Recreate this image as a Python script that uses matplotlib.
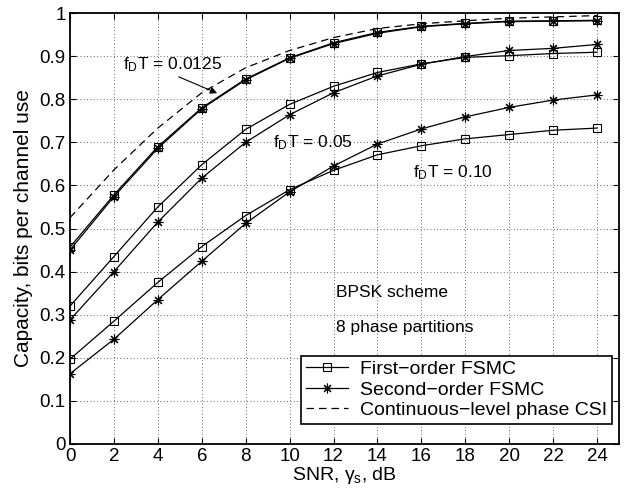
import matplotlib
matplotlib.use("Agg")
import matplotlib.pyplot as plt

plt.rcParams['font.family'] = ['Liberation Sans', 'DejaVu Sans']
plt.rcParams['mathtext.fontset'] = 'custom'
plt.rcParams['mathtext.rm'] = 'Liberation Sans'
plt.rcParams['mathtext.it'] = 'Liberation Sans'

snr = [0, 2, 4, 6, 8, 10, 12, 14, 16, 18, 20, 22, 24]

# fD T = 0.0125
first_0125 = [0.457, 0.578, 0.690, 0.780, 0.847, 0.896, 0.931, 0.955, 0.969, 0.976, 0.981, 0.982, 0.983]
second_0125 = [0.450, 0.574, 0.686, 0.778, 0.845, 0.895, 0.929, 0.953, 0.968, 0.975, 0.980, 0.981, 0.982]
# fD T = 0.05
first_005 = [0.320, 0.435, 0.550, 0.648, 0.730, 0.788, 0.830, 0.862, 0.882, 0.897, 0.901, 0.906, 0.909]
second_005 = [0.288, 0.400, 0.515, 0.617, 0.700, 0.764, 0.815, 0.854, 0.881, 0.899, 0.913, 0.918, 0.927]
# fD T = 0.10
first_010 = [0.197, 0.285, 0.375, 0.458, 0.530, 0.590, 0.635, 0.671, 0.692, 0.708, 0.718, 0.728, 0.733]
second_010 = [0.163, 0.243, 0.335, 0.424, 0.512, 0.585, 0.645, 0.696, 0.731, 0.759, 0.781, 0.798, 0.810]
# continuous-level phase CSI
continuous = [0.525, 0.636, 0.733, 0.815, 0.873, 0.913, 0.943, 0.964, 0.975, 0.982, 0.988, 0.991, 0.994]

xticks = list(range(0, 25, 2))
yticks = [0, 0.1, 0.2, 0.3, 0.4, 0.5, 0.6, 0.7, 0.8, 0.9, 1]
ytick_labels = ['0', '0.1', '0.2', '0.3', '0.4', '0.5', '0.6', '0.7', '0.8', '0.9', '1']

fig = plt.figure(figsize=(6.27, 4.97), dpi=100)
ax = fig.add_axes([70/627, 53/497, 549/627, 431/497])

lw = 0.9
sq = dict(marker='s', markersize=6, markerfacecolor='none', markeredgecolor='black', markeredgewidth=0.8)
st = dict(marker=(8, 2, 0), markersize=7, markerfacecolor='black', markeredgecolor='black', markeredgewidth=0.8)

ax.plot(snr, first_0125, color='black', lw=lw, **sq, label='First\u2212order FSMC')
ax.plot(snr, second_0125, color='black', lw=lw, **st, label='Second\u2212order FSMC')
ax.plot(snr, continuous, color='black', lw=lw, ls=(0, (6, 4)), label='Continuous\u2212level phase CSI')
ax.plot(snr, first_005, color='black', lw=lw, **sq)
ax.plot(snr, second_005, color='black', lw=lw, **st)
ax.plot(snr, first_010, color='black', lw=lw, **sq)
ax.plot(snr, second_010, color='black', lw=lw, **st)

ax.set_xlim(0, 25)
ax.set_ylim(0, 1)
ax.set_xticks(xticks)
ax.set_yticks(yticks)
ax.set_yticklabels(ytick_labels)
ax.tick_params(direction='in', length=4, width=0.8, labelsize=13.5, top=True, right=True, pad=3)
ax.grid(True, ls=(0, (1, 3)), color='black', lw=0.6, alpha=0.8)
for s in ax.spines.values():
    s.set_linewidth(1.3)

ax.set_xlabel(r'SNR, $\gamma_{\mathregular{s}}$, dB', fontsize=14, labelpad=0)
ax.set_ylabel('Capacity, bits per channel use', fontsize=15, labelpad=5)

ax.annotate(r'f$_{\mathregular{D}}$T = 0.0125', xy=(6.7, 0.814), xytext=(2.4, 0.88),
            fontsize=12.5, ha='left', va='center',
            arrowprops=dict(arrowstyle='-|>', color='black', lw=0.8, mutation_scale=10,
                            shrinkA=0, shrinkB=0, relpos=(0.5, 0.0)))
ax.text(9.25, 0.70, r'f$_{\mathregular{D}}$T = 0.05', fontsize=12.5, ha='left', va='center')
ax.text(15.6, 0.63, r'f$_{\mathregular{D}}$T = 0.10', fontsize=12.5, ha='left', va='center')
ax.text(12.1, 0.352, 'BPSK scheme', fontsize=12.5, ha='left', va='center')
ax.text(12.1, 0.270, '8 phase partitions', fontsize=12.5, ha='left', va='center')

leg = ax.legend(loc='lower right', fontsize=14,
                frameon=True, fancybox=False, edgecolor='black', framealpha=1,
                borderpad=0.25, labelspacing=0.15, handlelength=2.2, handletextpad=0.6,
                borderaxespad=0)
leg.get_frame().set_linewidth(1.2)
leg.set_bbox_to_anchor((612/627, (497 - 424)/497), transform=fig.transFigure)

fig.savefig('out.png', dpi=100)
